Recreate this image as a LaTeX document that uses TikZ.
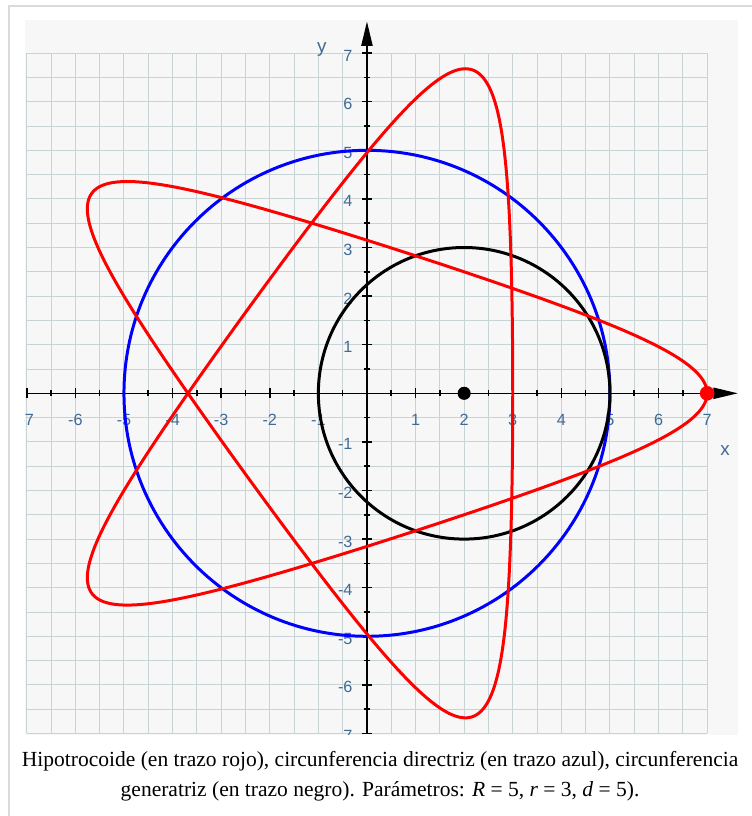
\documentclass[tikz,border=0pt]{standalone}
\usepackage{fontspec}
\setmainfont{Liberation Serif}
\setsansfont{Liberation Sans}
\usetikzlibrary{arrows.meta}

\definecolor{marco}{HTML}{DADADA}
\definecolor{fondo}{HTML}{F7F7F7}
\definecolor{rejilla}{HTML}{C8D3D6}
\definecolor{cifra}{HTML}{3F6A94}

\begin{document}
\begin{tikzpicture}[
  malla/.style={draw=rejilla, line width=0.55pt},
  eje/.style={line width=0.9pt, -{Triangle[length=5mm, width=2.3mm]}},
  marca/.style={line width=0.9pt},
  cifras/.style={font=\sffamily\fontsize{9.5}{10}\selectfont, text=cifra, inner sep=0pt},
  curva/.style={line width=1.75pt},
  punto/.style={circle, inner sep=0pt, minimum size=#1},
  pie/.style={align=center, font=\fontsize{12.6}{17.6}\selectfont, inner sep=0pt}
]
  \useasboundingbox (-7.551,-8.698) rectangle (7.922,8.093);
  % marco exterior
  \draw[marco, line width=1.2pt] (-7.366,-9) -- (-7.366,7.969) -- (8.5,7.969);
  % fondo y rejilla
  \fill[fondo] (-7.04,-7.03) rectangle (7.63,7.68);
  \draw[malla] (-7,-7) grid[step=0.5] (7,7);
  % cifras de los ejes
  \begin{scope}
    \clip (-7.04,-7.03) rectangle (7.63,7.68);
    \foreach \i in {-7,...,-1,1,2,...,7} {
      \node[cifras] (cx\i) at (\i,-0.55) {\i};
      \node[cifras, anchor=east] (cy\i) at (-0.29,\i-0.05) {\i};
    }
  \end{scope}
  \node[cifras, font=\sffamily\fontsize{11}{12}\selectfont] (ny) at (-0.93,7.07) {y};
  \node[cifras, font=\sffamily\fontsize{11}{12}\selectfont] (nx) at (7.37,-1.17) {x};
  % ejes con marcas
  \draw[eje] (-7,0) -- (7.63,0);
  \draw[eje] (0,-7) -- (0,7.65);
  \foreach \i in {-7,...,7} {
    \draw[marca] (\i,-0.1) -- (\i,0.1);
    \draw[marca] (-0.1,\i) -- (0.1,\i);
  }
  \foreach \i in {-6.5,-5.5,...,6.5} {
    \draw[marca] (\i,-0.06) -- (\i,0.06);
    \draw[marca] (-0.06,\i) -- (0.06,\i);
  }
  % circunferencias directriz y generatriz
  \draw[curva, blue] (0,0) circle (5);
  \draw[curva, black] (2,0) circle (3);
  % hipotrocoide R=5, r=3, d=5
  \draw[curva, red, line join=round] plot[variable=\t, domain=0:1080, samples=541, smooth]
    ({2*cos(\t)+5*cos(2*\t/3)}, {2*sin(\t)-5*sin(2*\t/3)}) -- cycle;
  \node[punto=2.7mm, fill=black] (centro) at (2,0) {};
  \node[punto=3mm, fill=red] (inicio) at (7,0) {};
  % pie de figura
  \node[pie] (leyenda) at (0.27,-7.88) {Hipotrocoide (en trazo rojo), circunferencia directriz (en trazo azul), circunferencia\\
    generatriz (en trazo negro). Parámetros: \textit{R} = 5, \textit{r} = 3, \textit{d} = 5).};
\end{tikzpicture}
\end{document}
